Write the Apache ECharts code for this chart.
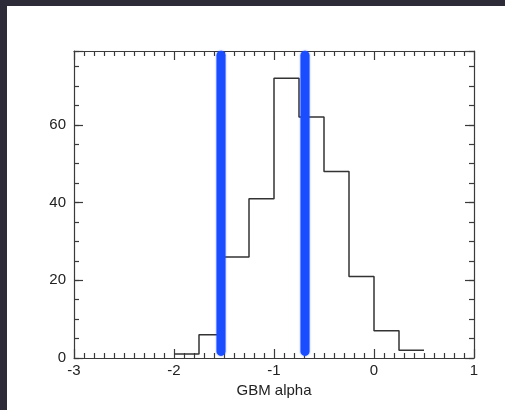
<!DOCTYPE html>
<html>
<head>
<meta charset="utf-8">
<script src="https://cdn.jsdelivr.net/npm/echarts@6/dist/echarts.min.js"></script>
<style>
html,body{margin:0;padding:0;background:#2c2b37;}
#chart{width:505px;height:410px;}
</style>
</head>
<body>
<div id="chart"></div>
<script>
// Histogram bin edges (GBM alpha) and counts per bin
const binEdges = [-2, -1.75, -1.5, -1.25, -1, -0.75, -0.5, -0.25, 0, 0.25, 0.5];
const counts = [1, 6, 26, 41, 72, 62, 48, 21, 7, 2];
// Positions of the two blue vertical bands
const bandX = [-1.53, -0.69];
const bandYRange = [1.7, 77.9];
// Axis ranges
const xRange = [-3, 1];
const yRange = [0, 79];

const histData = binEdges.map((e, i) => [e, counts[Math.min(i, counts.length - 1)]]);

const font = 'Liberation Sans, Arial, Helvetica, sans-serif';
const axisCol = '#3a3a3a';

function xAx(pos, showLabel) {
  return {
    type: 'value', position: pos, min: xRange[0], max: xRange[1], interval: 1,
    axisLine: { show: true, onZero: false, lineStyle: { color: axisCol, width: 1.2 } },
    axisTick: { show: true, inside: true, length: 9, lineStyle: { color: axisCol, width: 1.2 } },
    minorTick: { show: true, splitNumber: 10, length: 5, lineStyle: { color: axisCol, width: 1.2 } },
    splitLine: { show: false }, minorSplitLine: { show: false },
    axisLabel: { show: showLabel, margin: 5, fontSize: 15, color: '#222', fontFamily: font },
    name: showLabel ? 'GBM alpha' : '', nameLocation: 'middle', nameGap: 21,
    nameTextStyle: { fontSize: 15, color: '#222', fontFamily: font }
  };
}
function yAx(pos, interval, len, showLabel, showLine) {
  return {
    type: 'value', position: pos, min: yRange[0], max: yRange[1], interval: interval,
    axisLine: { show: showLine, onZero: false, lineStyle: { color: axisCol, width: 1.2 } },
    axisTick: { show: true, inside: true, length: len, lineStyle: { color: axisCol, width: 1.2 } },
    splitLine: { show: false },
    axisLabel: { show: showLabel, margin: 8, fontSize: 15, color: '#222', fontFamily: font,
      formatter: v => (v % 20 === 0 ? String(v) : '') }
  };
}

const chart = echarts.init(document.getElementById('chart'), null, { renderer: 'canvas' });
chart.setOption({
  backgroundColor: '#2c2b37',
  animation: false,
  graphic: [{ type: 'rect', shape: { x: 7, y: 6, width: 498, height: 404 }, style: { fill: '#ffffff' }, z: -10 }],
  grid: { left: 74, top: 51, width: 400, height: 307 },
  xAxis: [xAx('bottom', true), xAx('top', false)],
  yAxis: [
    yAx('left', 20, 9, true, true),
    yAx('left', 5, 5, false, false),
    yAx('right', 20, 9, false, true),
    yAx('right', 5, 5, false, false)
  ],
  series: [
    {
      type: 'line', xAxisIndex: 0, yAxisIndex: 0, step: 'end', symbol: 'none',
      data: histData, lineStyle: { color: '#333', width: 1.5 }, z: 2
    },
    ...bandX.map(x => ({
      type: 'line', xAxisIndex: 0, yAxisIndex: 0, symbol: 'none', clip: true,
      data: [[x, bandYRange[0]], [x, bandYRange[1]]],
      lineStyle: { color: '#1a4dff', width: 9, cap: 'round', shadowBlur: 2, shadowColor: 'rgba(26,77,255,0.6)' },
      z: 3
    }))
  ]
});
</script>
</body>
</html>
